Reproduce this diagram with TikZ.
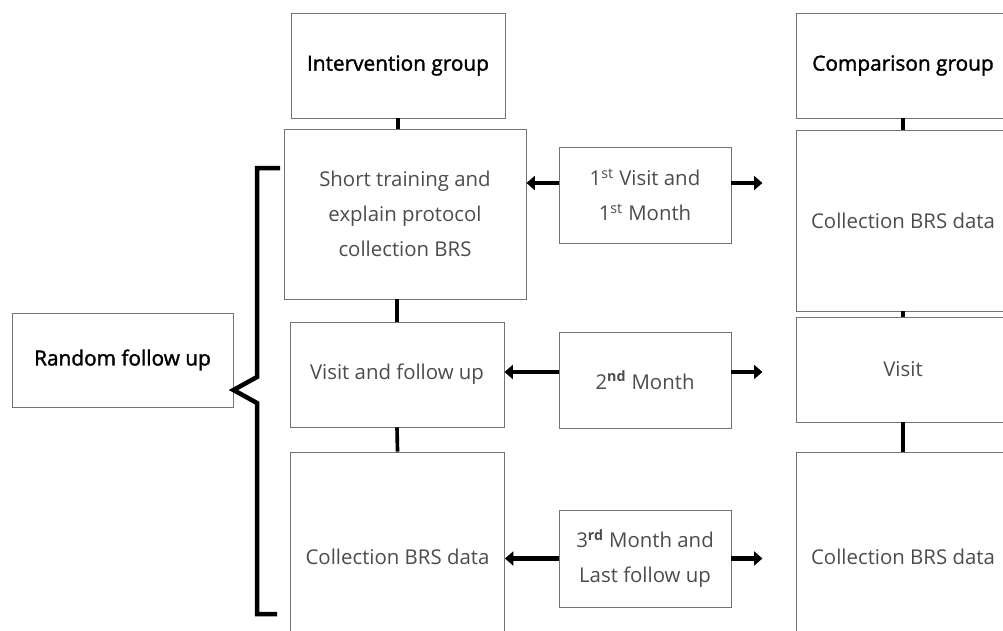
\documentclass[tikz,border=0pt]{standalone}
\usepackage{fontspec}
\setmainfont{Open Sans}
\newfontfamily\headfont[FakeBold=1.6]{Open Sans}
\usetikzlibrary{arrows.meta}
\definecolor{boxline}{gray}{.45}
\definecolor{boxtext}{gray}{.3}
\newcommand{\colwidth}{5.35cm}
\newcommand{\midwidth}{4.3cm}
\tikzset{
    box/.style={draw=boxline, line width=0.6pt, rectangle, align=center, text=boxtext,
        font=\fontsize{14.5}{24.8}\selectfont, inner sep=0pt},
    head/.style={box, text=black, font=\headfont\fontsize{14.8}{24.8}\selectfont},
    link/.style={line width=2.6pt},
    arr/.style={line width=3pt, -{Triangle[length=6pt, width=10pt]}},
    brace/.style={line width=3.2pt, line join=miter}
}
\begin{document}
\begin{tikzpicture}[x=0.025cm, y=-0.025cm]
    \useasboundingbox (0,0) rectangle (1003,630);
    \clip (0,0) rectangle (1003,630);

    % intervention column
    \node[head, minimum width=\colwidth, minimum height=2.625cm] (grpI) at (398,65.5) {Intervention group};
    \node[box, minimum width=6.05cm, minimum height=4.25cm] (train) at (405,214) {Short training and\\ explain protocol\\ collection BRS};
    \node[box, minimum width=\colwidth, minimum height=2.625cm] (visI) at (397,374.5) {Visit and follow up};
    \node[box, minimum width=\colwidth, minimum height=5.25cm] (colI) at (397.5,557) {Collection BRS data};

    % comparison column
    \node[head, minimum width=\colwidth, minimum height=2.625cm] (grpC) at (903,65.5) {Comparison group};
    \node[box, minimum width=\colwidth, minimum height=4.525cm] (colC1) at (903,220.5) {Collection BRS data};
    \node[box, minimum width=\colwidth, minimum height=2.625cm] (visC) at (903,369.5) {Visit};
    \node[box, minimum width=\colwidth, minimum height=5.25cm] (colC2) at (903,557) {Collection BRS data};

    % time points
    \node[box, minimum width=\midwidth, minimum height=2.4cm] (m1) at (645,195) {1\textsuperscript{st} Visit and\\ 1\textsuperscript{st} Month};
    \node[box, minimum width=\midwidth, minimum height=2.4cm] (m2) at (645,380) {2\textsuperscript{\bfseries nd} Month};
    \node[box, minimum width=\midwidth, minimum height=2.425cm] (m3) at (645,558.5) {3\textsuperscript{\bfseries rd} Month and\\ Last follow up};

    \node[head, minimum width=5.525cm, minimum height=2.35cm] (rnd) at (122.5,360) {Random follow up};

    % vertical links
    \draw[link] (grpI.south) -- (grpI.south |- train.north);
    \draw[link] (visI.north |- train.south) -- (visI.north);
    \draw[link] (visI.south) -- (colI.north);
    \draw[link] (grpC.south) -- (colC1.north);
    \draw[link] (colC1.south) -- (visC.north);
    \draw[link, line width=3.2pt] (visC.south) -- (colC2.north);

    % arrows to both groups
    \draw[arr] ([yshift=12*0.025cm]m1.west) -- ([yshift=12*0.025cm]m1.west -| train.east);
    \draw[arr] ([yshift=12*0.025cm]m1.east) -- ++(31,0);
    \draw[arr] ([yshift=8*0.025cm]m2.west) -- ([yshift=8*0.025cm]m2.west -| visI.east);
    \draw[arr] ([yshift=8*0.025cm]m2.east) -- ++(31,0);
    \draw[arr] (m3.west) -- (m3.west -| colI.east);
    \draw[arr] (m3.east) -- ++(31,0);

    % bracket
    \draw[brace] (280,168) -- (257,168) -- (257,377) -- ([yshift=-30*0.025cm]rnd.east) -- (257,403) -- (257,614) -- (277,614);
\end{tikzpicture}
\end{document}
